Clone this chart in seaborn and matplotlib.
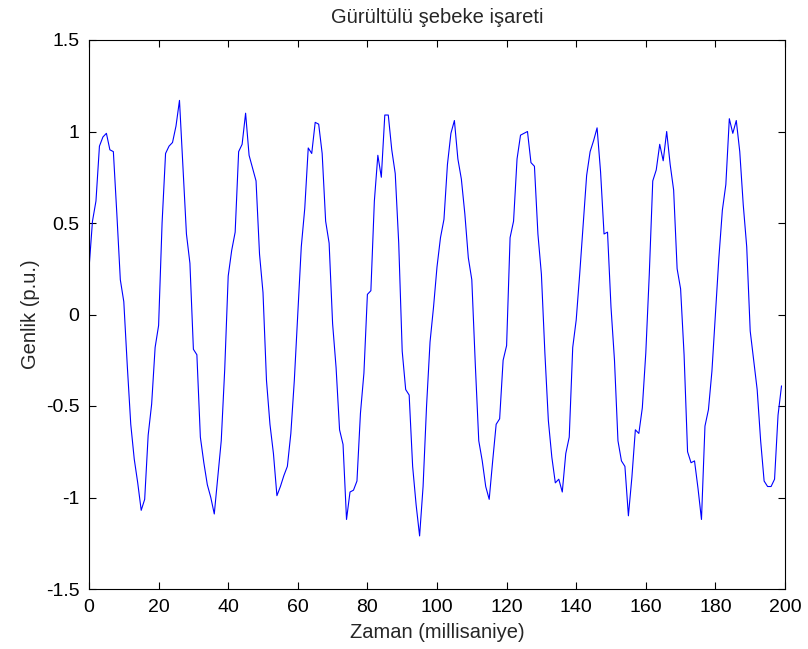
import numpy as np
import pandas as pd
import matplotlib
matplotlib.use('Agg')
import matplotlib.pyplot as plt
import seaborn as sns

# sample index (ms) and the noisy signal values
zaman = np.arange(200)
genlik = [
    0.25, 0.51, 0.62, 0.92, 0.97, 0.99, 0.90, 0.89, 0.55, 0.19,
    0.07, -0.28, -0.60, -0.79, -0.92, -1.07, -1.01, -0.66, -0.49, -0.18,
    -0.06, 0.50, 0.88, 0.92, 0.94, 1.03, 1.17, 0.80, 0.44, 0.28,
    -0.19, -0.22, -0.67, -0.81, -0.93, -1.00, -1.09, -0.89, -0.69, -0.30,
    0.21, 0.35, 0.45, 0.89, 0.93, 1.10, 0.87, 0.80, 0.73, 0.33,
    0.12, -0.36, -0.60, -0.76, -0.99, -0.94, -0.88, -0.83, -0.65, -0.36,
    0.00, 0.37, 0.58, 0.91, 0.88, 1.05, 1.04, 0.88, 0.51, 0.39,
    -0.05, -0.29, -0.63, -0.71, -1.12, -0.97, -0.96, -0.91, -0.54, -0.32,
    0.11, 0.13, 0.62, 0.87, 0.75, 1.09, 1.09, 0.90, 0.77, 0.39,
    -0.20, -0.41, -0.44, -0.83, -1.04, -1.21, -0.94, -0.50, -0.15, 0.04,
    0.26, 0.42, 0.52, 0.82, 0.99, 1.06, 0.85, 0.74, 0.55, 0.31,
    0.19, -0.27, -0.69, -0.80, -0.94, -1.01, -0.80, -0.60, -0.57, -0.25,
    -0.17, 0.42, 0.51, 0.85, 0.98, 0.99, 1.00, 0.83, 0.81, 0.44,
    0.22, -0.21, -0.58, -0.78, -0.92, -0.90, -0.97, -0.76, -0.67, -0.18,
    -0.03, 0.22, 0.49, 0.76, 0.89, 0.95, 1.02, 0.78, 0.44, 0.45,
    0.04, -0.25, -0.69, -0.80, -0.83, -1.10, -0.89, -0.63, -0.65, -0.51,
    -0.21, 0.22, 0.73, 0.79, 0.93, 0.84, 1.00, 0.82, 0.68, 0.25,
    0.14, -0.22, -0.75, -0.81, -0.80, -0.95, -1.12, -0.61, -0.52, -0.31,
    0.00, 0.31, 0.57, 0.71, 1.07, 0.99, 1.06, 0.89, 0.60, 0.37,
    -0.09, -0.25, -0.41, -0.69, -0.91, -0.94, -0.94, -0.90, -0.55, -0.39,
]

xticks = list(range(0, 201, 20))
yticks = [-1.5, -1, -0.5, 0, 0.5, 1, 1.5]
yticklabels = ['-1.5', '-1', '-0.5', '0', '0.5', '1', '1.5']

df = pd.DataFrame({'Zaman': zaman, 'Genlik': genlik})

sns.set_theme(style='ticks')
plt.rcParams['font.family'] = ['Liberation Sans', 'DejaVu Sans']

fig = plt.figure(figsize=(8.08, 6.49), dpi=100)
ax = fig.add_axes([89 / 808, 1 - 589 / 649, (785 - 89) / 808, (589 - 40) / 649])

sns.lineplot(data=df, x='Zaman', y='Genlik', color='#0000ff', linewidth=0.8,
             estimator=None, ax=ax)

ax.set_xlim(0, 200)
ax.set_ylim(-1.5, 1.5)
ax.set_xticks(xticks)
ax.set_yticks(yticks)
ax.set_yticklabels(yticklabels)
ax.tick_params(direction='in', top=True, right=True, length=5, width=0.8,
               labelsize=14, colors='black')
ax.tick_params(axis='x', pad=7)
ax.tick_params(axis='y', pad=7)
for s in ax.spines.values():
    s.set_linewidth(0.8)
    s.set_color('black')

ax.set_title('Gürültülü şebeke işareti', fontsize=14.5, pad=12)
ax.set_xlabel('Zaman (millisaniye)', fontsize=14.5, labelpad=5)
ax.set_ylabel('Genlik (p.u.)', fontsize=14.5, labelpad=4)

fig.savefig('out.png', dpi=100)
